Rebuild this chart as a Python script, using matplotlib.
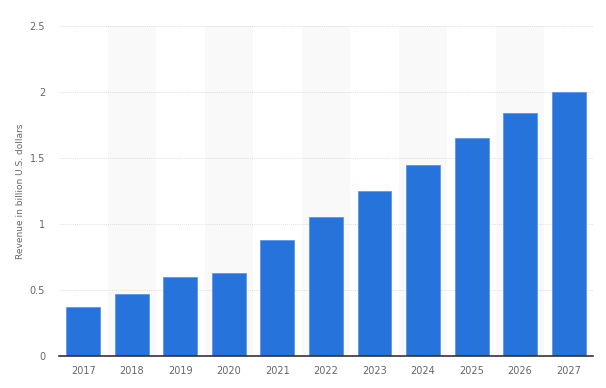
import numpy as np
import matplotlib
matplotlib.use("Agg")
import matplotlib.pyplot as plt

years = ["2017", "2018", "2019", "2020", "2021", "2022",
         "2023", "2024", "2025", "2026", "2027"]
revenue = [0.37, 0.47, 0.6, 0.63, 0.88, 1.05, 1.25, 1.45, 1.65, 1.84, 2.0]
y_ticks = [0, 0.5, 1, 1.5, 2, 2.5]
y_tick_labels = ["0", "0.5", "1", "1.5", "2", "2.5"]


def main() -> None:
    fig = plt.figure(figsize=(6.06, 3.88), dpi=100)
    ax = fig.add_axes([0.0974, 0.0825, 0.881, 0.8505])

    x = np.arange(len(years))

    # alternating background bands
    for i in x[1::2]:
        ax.axvspan(i - 0.5, i + 0.5, color="#f9f9f9", zorder=0, lw=0)

    ax.bar(x, revenue, width=0.7, color="#2674db", edgecolor="#5a98ea",
           linewidth=0.6, zorder=3)

    ax.set_xlim(-0.5, len(years) - 0.5)
    ax.set_ylim(0, 2.5)
    ax.set_xticks(x)
    ax.set_xticklabels(years)
    ax.set_yticks(y_ticks)
    ax.set_yticklabels(y_tick_labels)

    ax.grid(axis="y", color="#e0e0e0", linestyle=(0, (1, 1)), linewidth=0.7,
            zorder=1)
    ax.set_axisbelow(True)

    for side in ["top", "right", "left"]:
        ax.spines[side].set_visible(False)
    ax.spines["bottom"].set_color("#333333")
    ax.spines["bottom"].set_linewidth(1.2)
    ax.spines["bottom"].set_zorder(4)

    ax.tick_params(axis="both", length=0, labelsize=7, labelcolor="#666666")
    ax.tick_params(axis="x", pad=7)
    ax.tick_params(axis="y", pad=10)

    ax.set_ylabel("Revenue in billion U.S. dollars", fontsize=6.5,
                  color="#666666", labelpad=3)

    fig.savefig("out.png", dpi=100)


if __name__ == "__main__":
    main()
